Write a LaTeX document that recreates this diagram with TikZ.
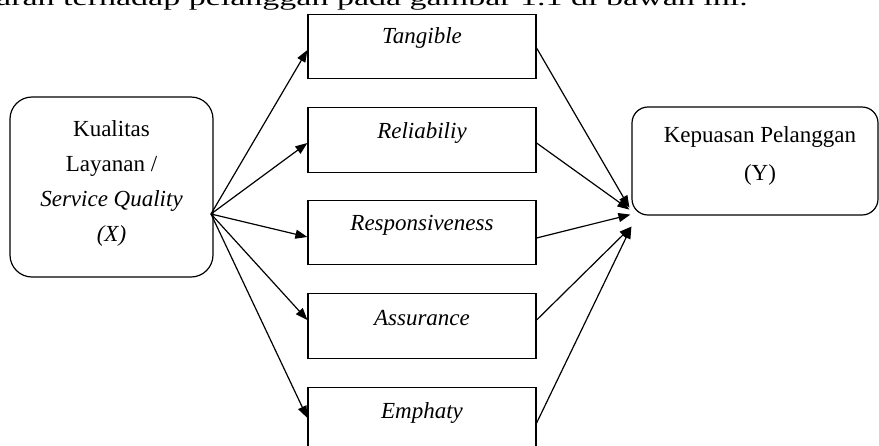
\documentclass[tikz,border=0pt]{standalone}
\usepackage{fontspec}
\setmainfont{Liberation Serif}
\usetikzlibrary{arrows.meta,calc}
\begin{document}
\begin{tikzpicture}[x=1pt,y=-1pt,
  txt/.style={font=\fontsize{23}{35}\selectfont, inner sep=0pt, align=center},
  midbox/.style={draw, line width=1.2pt, minimum width=228pt, minimum height=64.5pt, inner sep=0pt},
  rbox/.style={draw, line width=1.2pt, inner sep=0pt},
  arr/.style={line width=1.2pt, -{Triangle[length=12pt,width=9pt]}}]
\useasboundingbox (0,0) rectangle (879,445);
\clip (0,0) rectangle (879,445);
% cut-off running text at the top
\node[anchor=base west, inner sep=0pt, font=\fontsize{34}{40}\selectfont] (top) at (-4,5.5) {\scalebox{1}[0.65]{aran terhadap pelanggan pada gambar 1.1 di bawah ini.}};
% left box
\node[rbox, rounded corners=22pt, minimum width=203pt, minimum height=180pt] (x) at (111.5,187) {};
\node[txt] (xt) at (111.5,183) {Kualitas\\Layanan /\\\textit{Service Quality}\\\textit{(X)}};
% right box
\node[rbox, rounded corners=16pt, minimum width=246pt, minimum height=108pt] (y) at (755,161) {};
\node[txt, font=\fontsize{23}{38}\selectfont] (yt) at (760,156) {Kepuasan Pelanggan\\(Y)};
% middle boxes
\node[midbox] (t) at (422,46.5) {};
\node[midbox] (r) at (422,140) {};
\node[midbox] (p) at (422,232.5) {};
\node[midbox] (a) at (422,326) {};
\node[midbox] (e) at (422,420) {};
\node[txt] at (422,38) {\textit{Tangible}};
\node[txt] at (422,133) {\textit{Reliabiliy}};
\node[txt] at (422,225) {\textit{Responsiveness}};
\node[txt] at (422,318) {\textit{Assurance}};
\node[txt] at (422,413) {\textit{Emphaty}};
% fan point and targets
\coordinate (src) at (211,214);
\coordinate (y1) at ($(y.south west)+(-2,-8)$);
\coordinate (y2) at ($(y.south west)+(-2,-6)$);
\coordinate (y3) at ($(y.south west)+(-1,-1)$);
\coordinate (y4) at ($(y.south west)+(0,11)$);
% arrows out of X
\draw[arr] (src) -- ([yshift=-3.5pt]t.west);
\draw[arr] (src) -- ([yshift=-3pt]r.west);
\draw[arr] (src) -- ([yshift=-4.5pt]p.west);
\draw[arr] (src) -- ([yshift=6pt]a.west);
\draw[arr] (src) -- ([yshift=2pt]e.west);
% arrows into Y
\draw[arr] ([yshift=-1.5pt]t.east) -- (y1);
\draw[arr] ([yshift=-3pt]r.east) -- (y2);
\draw[arr] ([yshift=-5.5pt]p.east) -- (y3);
\draw[arr] ([yshift=6pt]a.east) -- (y4);
\draw[arr] ([yshift=-3pt]e.east) -- (y4);
\end{tikzpicture}
\end{document}
